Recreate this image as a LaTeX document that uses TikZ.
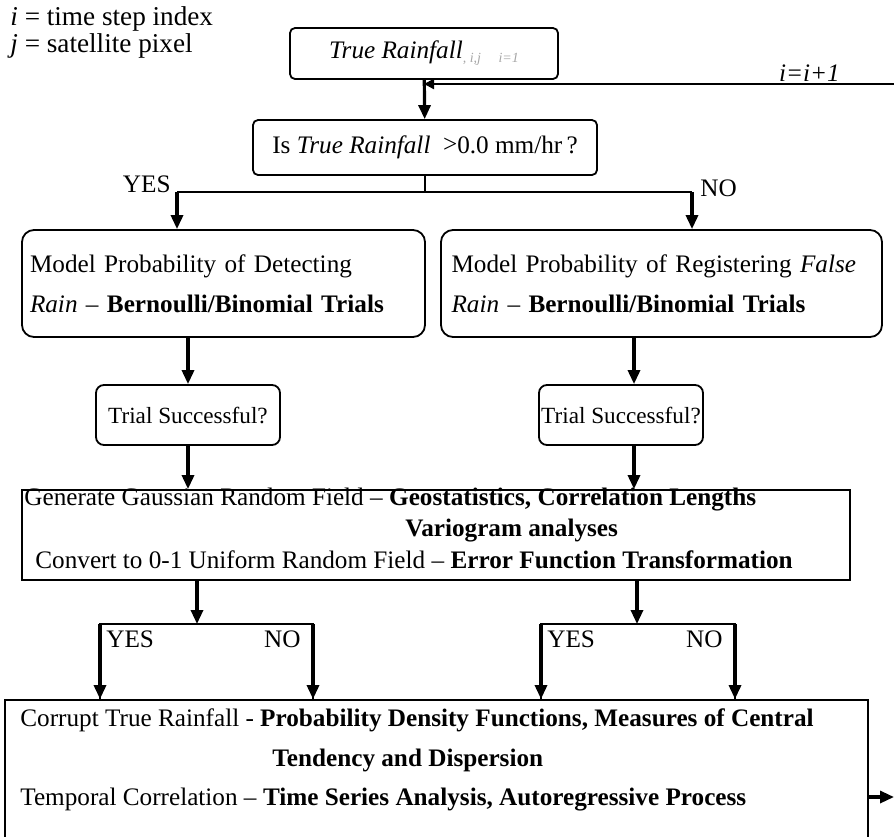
\documentclass[tikz,border=0pt]{standalone}
\usepackage{fontspec}
\setmainfont{Liberation Serif}
\usetikzlibrary{arrows.meta,positioning}
\tikzset{
  >={Triangle[length=7pt,width=6pt]},
  rbox/.style={draw=black,line width=0.9pt,rounded corners=#1,align=left,
    inner ysep=0pt},
  rbox/.default=3pt,
  sbox/.style={draw=black,line width=0.9pt,inner sep=0pt},
  flow/.style={->,line width=1.6pt},
  link/.style={line width=#1},
  link/.default=1pt,
  tag/.style={inner sep=0pt},
  note/.style={inner sep=0pt,font=\fontsize{13.6}{13.5}\selectfont,align=left},
}

\begin{document}
\begin{tikzpicture}[x=0.5pt,y=-0.5pt,font=\fontsize{12.6}{20}\selectfont]
  \useasboundingbox (0,0) rectangle (894,836);
  \clip (0,0) rectangle (894,836);
  % legend
  \node[note,anchor=north west] (legend) at (10,6)
    {\textit{i} = time step index\\ \textit{j} = satellite pixel};
  % boxes
  \node[rbox=2.5pt,minimum width=134pt,minimum height=25.5pt,align=center] (top) at (424,53.5)
    {\textit{True Rainfall}\textcolor{black!35}{\raisebox{-2pt}{\scriptsize\textit{, i,j \quad i=1}}}};
  \node[rbox=2.5pt,minimum width=172pt,minimum height=27.5pt,align=center] (dec) at (425,147.5)
    {Is \textit{True Rainfall}~ \raisebox{0.5pt}{>}0.0 mm/hr\,?};
  \node[rbox=6pt,text width=193.5pt,inner xsep=4pt,minimum height=53.5pt] (ml) at (223.5,283.5)
    {Model Probability of Detecting\\ \textit{Rain} -- \textbf{Bernoulli/Binomial Trials}};
  \node[rbox=6pt,text width=210pt,inner xsep=5.25pt,minimum height=53.5pt] (mr) at (661.5,283.5)
    {Model Probability of Registering \textit{False}\\ \textit{Rain} -- \textbf{Bernoulli/Binomial Trials}};
  \node[rbox=4pt,minimum width=92pt,minimum height=30pt,align=center,inner xsep=2pt,
    font=\fontsize{11.6}{20}\selectfont] (tl) at (188,415) {Trial Successful?};
  \node[rbox=4pt,minimum width=82pt,minimum height=30pt,align=center,inner xsep=1pt,
    font=\fontsize{11.6}{20}\selectfont] (tr) at (621,415) {Trial Successful?};
  \node[sbox,minimum width=414pt,minimum height=45pt] (gauss) at (436,535) {};
  \node[tag,anchor=base west] (g1) at (24,505)
    {Generate Gaussian Random Field -- \textbf{Geostatistics, Correlation Lengths}};
  \node[tag,anchor=base west] (g2) at (405,536) {\textbf{Variogram analyses}};
  \node[tag,anchor=base west] (g3) at (35,568)
    {Convert to 0-1 Uniform Random Field -- \textbf{Error Function Transformation}};
  \node[sbox,minimum width=431.5pt,minimum height=80pt] (corr) at (436.5,780) {};
  \node[tag,anchor=base west] (c1) at (20,726)
    {Corrupt True Rainfall - \textbf{Probability Density Functions, Measures of Central}};
  \node[tag,anchor=base west] (c2) at (272,766) {\textbf{Tendency and Dispersion}};
  \node[tag,anchor=base west] (c3) at (20,805)
    {Temporal Correlation -- \textbf{Time Series Analysis, Autoregressive Process}};

  % loop back
  \coordinate (loopin) at (894,84);
  \draw[flow] (top) -- (dec);
  \draw[line width=1.1pt,-{Triangle[length=5pt,width=5pt]}] (loopin) -- (top.south |- loopin)
    node[pos=0.18,above=0.6pt,tag] (inc) {\textit{i=i+1}};

  % rain / no rain split
  \coordinate (yes) at (177,192);
  \coordinate (no) at (692,192);
  \draw[link] (dec) -- (dec.south |- yes);
  \draw[link] (yes) -- (no);
  \draw[flow] (yes) -- (yes |- ml.north);
  \draw[flow] (no) -- (no |- mr.north);
  \node[tag,anchor=base east] (yeslab) at ([xshift=-3pt]yes) {YES};
  \node[tag,anchor=base west] (nolab) at ([xshift=4pt,yshift=-2pt]no) {NO};

  \draw[flow] (tl.north |- ml.south) -- (tl.north);
  \draw[flow] ([xshift=6.5pt]tr.north |- mr.south) -- ([xshift=6.5pt]tr.north);
  \draw[flow] (tl.south) -- (tl.south |- gauss.north);
  \draw[flow] ([xshift=6.5pt]tr.south) -- ([xshift=6.5pt]tr.south |- gauss.north);

  % yes / no after the uniform field
  \coordinate (lsplit) at (197,624);
  \coordinate (rsplit) at (637,624);
  \coordinate (byl) at (100,624);
  \coordinate (bnl) at (313,624);
  \coordinate (byr) at (541,624);
  \coordinate (bnr) at (735,624);
  \draw[flow] (gauss.south -| lsplit) -- (lsplit);
  \draw[flow] (gauss.south -| rsplit) -- (rsplit);
  \draw[link=1.3pt] (byl |- corr.north) -- (byl) -- (bnl) -- (bnl |- corr.north);
  \draw[link=1.3pt] (byr |- corr.north) -- (byr) -- (bnr) -- (bnr |- corr.north);
  \foreach \c in {byl,bnl,byr,bnr}
    \draw[flow] (\c) -- (\c |- corr.north);
  \node[tag,anchor=north west] (yesl) at ([xshift=3pt,yshift=-3pt]byl) {YES};
  \node[tag,anchor=north east] (nol) at ([xshift=-6pt,yshift=-3pt]bnl) {NO};
  \node[tag,anchor=north west] (yesr) at ([xshift=3pt,yshift=-3pt]byr) {YES};
  \node[tag,anchor=north east] (nor) at ([xshift=-6pt,yshift=-3pt]bnr) {NO};

  \coordinate (out) at (894,797);
  \draw[flow] (corr.east |- out) -- (out);
\end{tikzpicture}
\end{document}
